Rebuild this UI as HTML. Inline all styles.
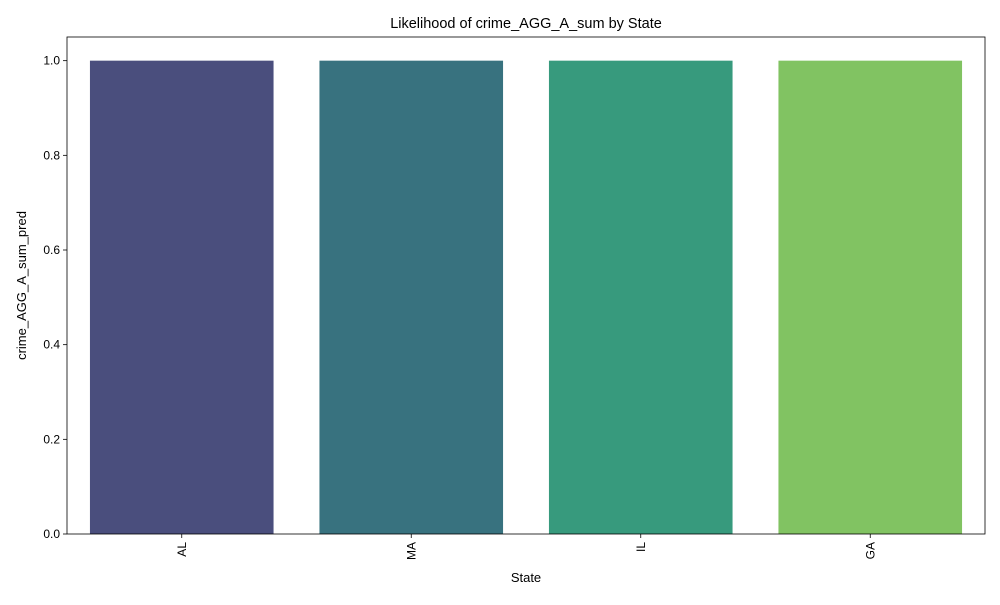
<!DOCTYPE html>
<html><head><meta charset="utf-8"><style>
body{margin:0;background:#fff;font-family:"Liberation Sans","DejaVu Sans",sans-serif;}
</style></head><body>
<svg width="1000" height="600" xmlns="http://www.w3.org/2000/svg">
<rect width="1000" height="600" fill="#fff"/>
<g id="plot"></g>
</svg>
<script>
const categories=["AL","MA","IL","GA"];
const values=[1.0,1.0,1.0,1.0];
const colors=["#4a4e7d","#38727f","#379a7d","#81c362"];
const yTicks=[0,0.2,0.4,0.6,0.8,1.0];
const tickLabels=["0.0","0.2","0.4","0.6","0.8","1.0"];
const L=67,R=985,T=37,B=534,yMax=1.05;
const ns="http://www.w3.org/2000/svg";
const g=document.getElementById('plot');
function y(v){return B-(B-T)*v/yMax;}
function x(i){return L+(R-L)*(i+0.5)/categories.length;}
function mk(tag,attrs,parent){const e=document.createElementNS(ns,tag);for(const k in attrs)e.setAttribute(k,attrs[k]);(parent||g).appendChild(e);return e;}
const bw=(R-L)/categories.length*0.8;
categories.forEach((c,i)=>{
 const r=mk('rect',{x:x(i)-bw/2,y:y(values[i]),width:bw,height:B-y(values[i]),fill:colors[i]});
 
 
 mk('line',{x1:x(i),x2:x(i),y1:B,y2:B+4,stroke:'#000','stroke-width':0.8});
 const t=mk('text',{x:0,y:0,'font-size':12,'text-anchor':'end',transform:`translate(${x(i)+4},${B+8}) rotate(-90)`});
 t.textContent=c;
 
 
});
yTicks.forEach((v,i)=>{
 mk('line',{x1:L-4,x2:L,y1:y(v),y2:y(v),stroke:'#000','stroke-width':0.8});
 const t=mk('text',{x:L-7,y:y(v)+4,'font-size':12,'text-anchor':'end'});
 t.textContent=tickLabels[i];
 
 
});
const f=mk('rect',{x:L,y:T,width:R-L,height:B-T,fill:'none',stroke:'#000','stroke-width':0.8});


const tt=mk('text',{x:(L+R)/2,y:28,'font-size':14.5,'text-anchor':'middle'});
tt.textContent='Likelihood of crime_AGG_A_sum by State';


const xt=mk('text',{x:(L+R)/2,y:582,'font-size':13,'text-anchor':'middle'});
xt.textContent='State';


const yt=mk('text',{x:0,y:0,'font-size':13,'text-anchor':'middle',transform:`translate(26,${(T+B)/2}) rotate(-90)`});
yt.textContent='crime_AGG_A_sum_pred';


</script>
</body></html>
